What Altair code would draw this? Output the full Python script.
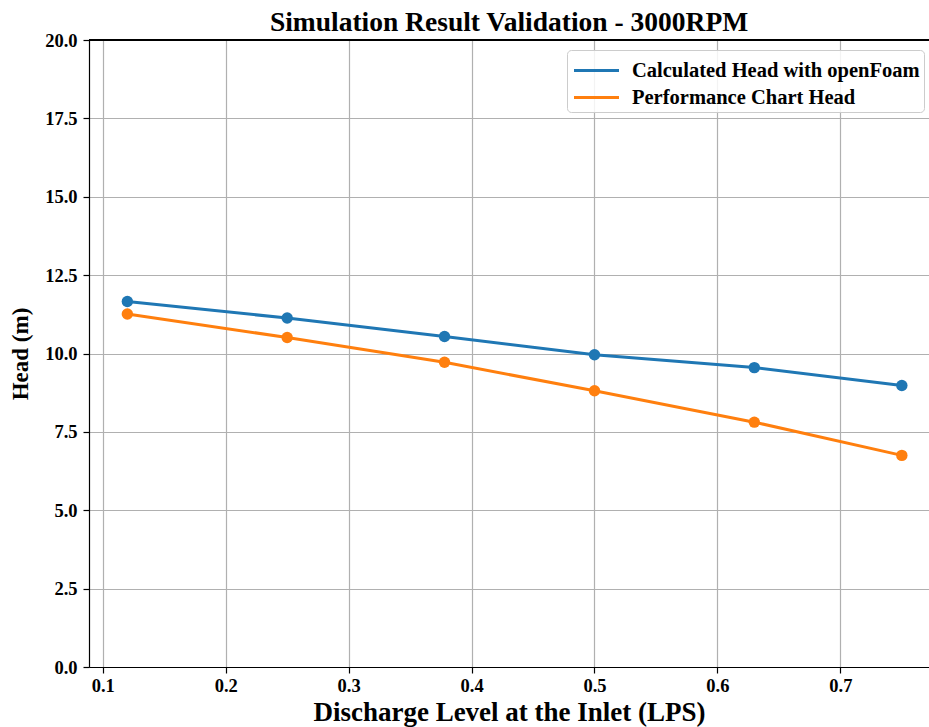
import altair as alt
import pandas as pd

discharge = [0.12, 0.25, 0.378, 0.5, 0.63, 0.75]
head_openfoam = [11.66, 11.13, 10.54, 9.96, 9.55, 8.98]
head_chart = [11.26, 10.51, 9.72, 8.81, 7.81, 6.75]
series_names = ["Calculated Head with openFoam", "Performance Chart Head"]
series_colors = ["#1f77b4", "#ff7f0e"]

rows = []
for x, a, b in zip(discharge, head_openfoam, head_chart):
    rows.append({"q": x, "h": a, "s": series_names[0]})
    rows.append({"q": x, "h": b, "s": series_names[1]})
df = pd.DataFrame(rows)

FONT = "Liberation Serif"
W, H = 840, 627

xs = alt.X("q:Q", scale=alt.Scale(domain=[0.0888, 0.7721], nice=False, zero=False),
           axis=alt.Axis(values=[0.1, 0.2, 0.3, 0.4, 0.5, 0.6, 0.7], format=".1f",
                         title="Discharge Level at the Inlet (LPS)"))
ys = alt.Y("h:Q", scale=alt.Scale(domain=[0, 20], nice=False),
           axis=alt.Axis(values=[0, 2.5, 5, 7.5, 10, 12.5, 15, 17.5, 20], format=".1f",
                         title="Head (m)"))
col = alt.Color("s:N", scale=alt.Scale(domain=series_names, range=series_colors),
                legend=alt.Legend(title=None, orient="none", legendX=478, legendY=10,
                                  symbolType="M-1.5,0H1.5", symbolSize=900, symbolStrokeWidth=3,
                                  symbolOffset=9,
                                  labelFont=FONT, labelFontWeight="bold", labelFontSize=20.5,
                                  labelColor="black", labelOffset=19, rowPadding=0,
                                  padding=4, cornerRadius=4, strokeColor="#cccccc",
                                  fillColor="rgba(255,255,255,0.85)", labelLimit=400))

lines = alt.Chart(df).mark_line(strokeWidth=3).encode(x=xs, y=ys, color=col)
pts = alt.Chart(df).mark_point(filled=True, size=130, opacity=1).encode(
    x=xs, y=ys, color=alt.Color("s:N", scale=alt.Scale(domain=series_names, range=series_colors), legend=None))
top = alt.Chart(df).mark_rule(color="black", strokeWidth=1.2).encode(
    x=alt.value(0), x2=alt.value(W), y=alt.value(0))

chart = alt.layer(lines, pts, top).properties(
    width=W, height=H,
    title=alt.TitleParams("Simulation Result Validation - 3000RPM", font=FONT, fontSize=27.5,
                          fontWeight="bold", color="black", anchor="middle", offset=7, dy=12),
    autosize=alt.AutoSizeParams(type="none"),
    padding={"left": 89, "top": 40, "right": 0, "bottom": 60},
).configure_view(strokeWidth=0).configure_axis(
    labelFont=FONT, labelFontWeight="bold", labelFontSize=18.5, labelColor="black",
    titleFont=FONT, titleFontWeight="bold", titleColor="black",
    domainColor="black", domainWidth=1.2, tickColor="black", tickSize=6, tickWidth=1.2,
    gridColor="#b0b0b0", gridWidth=1.2, labelPadding=3,
).configure_axisX(titleFontSize=27, titlePadding=5).configure_axisY(
    titleFontSize=23, titlePadding=12, labelPadding=6
)

chart.save("out.html", embed_options={"renderer": "svg", "actions": False})
